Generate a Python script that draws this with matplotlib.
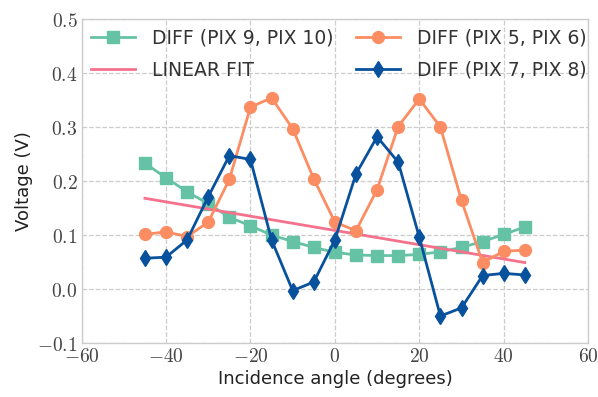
import matplotlib

matplotlib.use("Agg")
import matplotlib.pyplot as plt
from matplotlib.ticker import FormatStrFormatter

# incidence angles (degrees)
angles = [-45, -40, -35, -30, -25, -20, -15, -10, -5, 0, 5, 10, 15, 20, 25, 30, 35, 40, 45]

diff_9_10 = [0.233, 0.206, 0.180, 0.158, 0.133, 0.117, 0.100, 0.088, 0.077, 0.068,
             0.063, 0.062, 0.062, 0.064, 0.069, 0.077, 0.088, 0.101, 0.115]
diff_5_6 = [0.101, 0.106, 0.097, 0.124, 0.203, 0.337, 0.354, 0.297, 0.204, 0.124,
            0.108, 0.184, 0.301, 0.352, 0.300, 0.164, 0.049, 0.070, 0.072]
diff_7_8 = [0.057, 0.059, 0.091, 0.171, 0.247, 0.240, 0.091, -0.003, 0.013, 0.091,
            0.213, 0.282, 0.235, 0.096, -0.050, -0.035, 0.025, 0.029, 0.026]

fit_x = [-45, 45]
fit_y = [0.168, 0.049]

GREEN = "#66c2a5"
ORANGE = "#fc8d62"
BLUE = "#08519c"
PINK = "#f4728c"

plt.rcParams["mathtext.fontset"] = "cm"
plt.rcParams["font.family"] = "DejaVu Sans"

fig = plt.figure(figsize=(5.98, 3.97), dpi=100)
ax = fig.add_axes([0.1365, 0.136, 0.847, 0.816])

h_green, = ax.plot(angles, diff_9_10, color=GREEN, marker="s", markersize=8.5, linewidth=2.0,
                   label="DIFF (PIX 9, PIX 10)")
h_fit, = ax.plot(fit_x, fit_y, color=PINK, linewidth=2.0, label="LINEAR FIT")
h_orange, = ax.plot(angles, diff_5_6, color=ORANGE, marker="o", markersize=8.5, linewidth=2.0,
                    label="DIFF (PIX 5, PIX 6)")
h_blue, = ax.plot(angles, diff_7_8, color=BLUE, marker="d", markersize=8.5, linewidth=2.0,
                  label="DIFF (PIX 7, PIX 8)")

ax.set_xlim(-60, 60)
ax.set_ylim(-0.1, 0.5)
ax.set_xticks([-60, -40, -20, 0, 20, 40, 60])
ax.set_yticks([-0.1, 0.0, 0.1, 0.2, 0.3, 0.4, 0.5])
ax.xaxis.set_major_formatter(FormatStrFormatter("$%d$"))
ax.yaxis.set_major_formatter(FormatStrFormatter("$%.1f$"))
ax.tick_params(labelsize=14, length=0, colors="#444444", pad=3)

ax.grid(True, linestyle="--", color="#cccccc", linewidth=0.9)
ax.set_axisbelow(True)
for spine in ax.spines.values():
    spine.set_color("#cccccc")
    spine.set_linewidth(1.0)

ax.set_xlabel("Incidence angle (degrees)", fontsize=13, color="#222222", labelpad=3)
ax.set_ylabel("Voltage (V)", fontsize=13, color="#222222", labelpad=3)

ax.legend(handles=[h_green, h_fit, h_orange, h_blue], ncol=2, frameon=False,
          fontsize=13.5, loc="upper left", bbox_to_anchor=(0.0, 1.0), borderaxespad=0.0,
          borderpad=0.5, handlelength=2.35, handletextpad=0.9, columnspacing=1.2,
          labelspacing=0.7, labelcolor="#333333")

fig.savefig("out.png", dpi=100)
